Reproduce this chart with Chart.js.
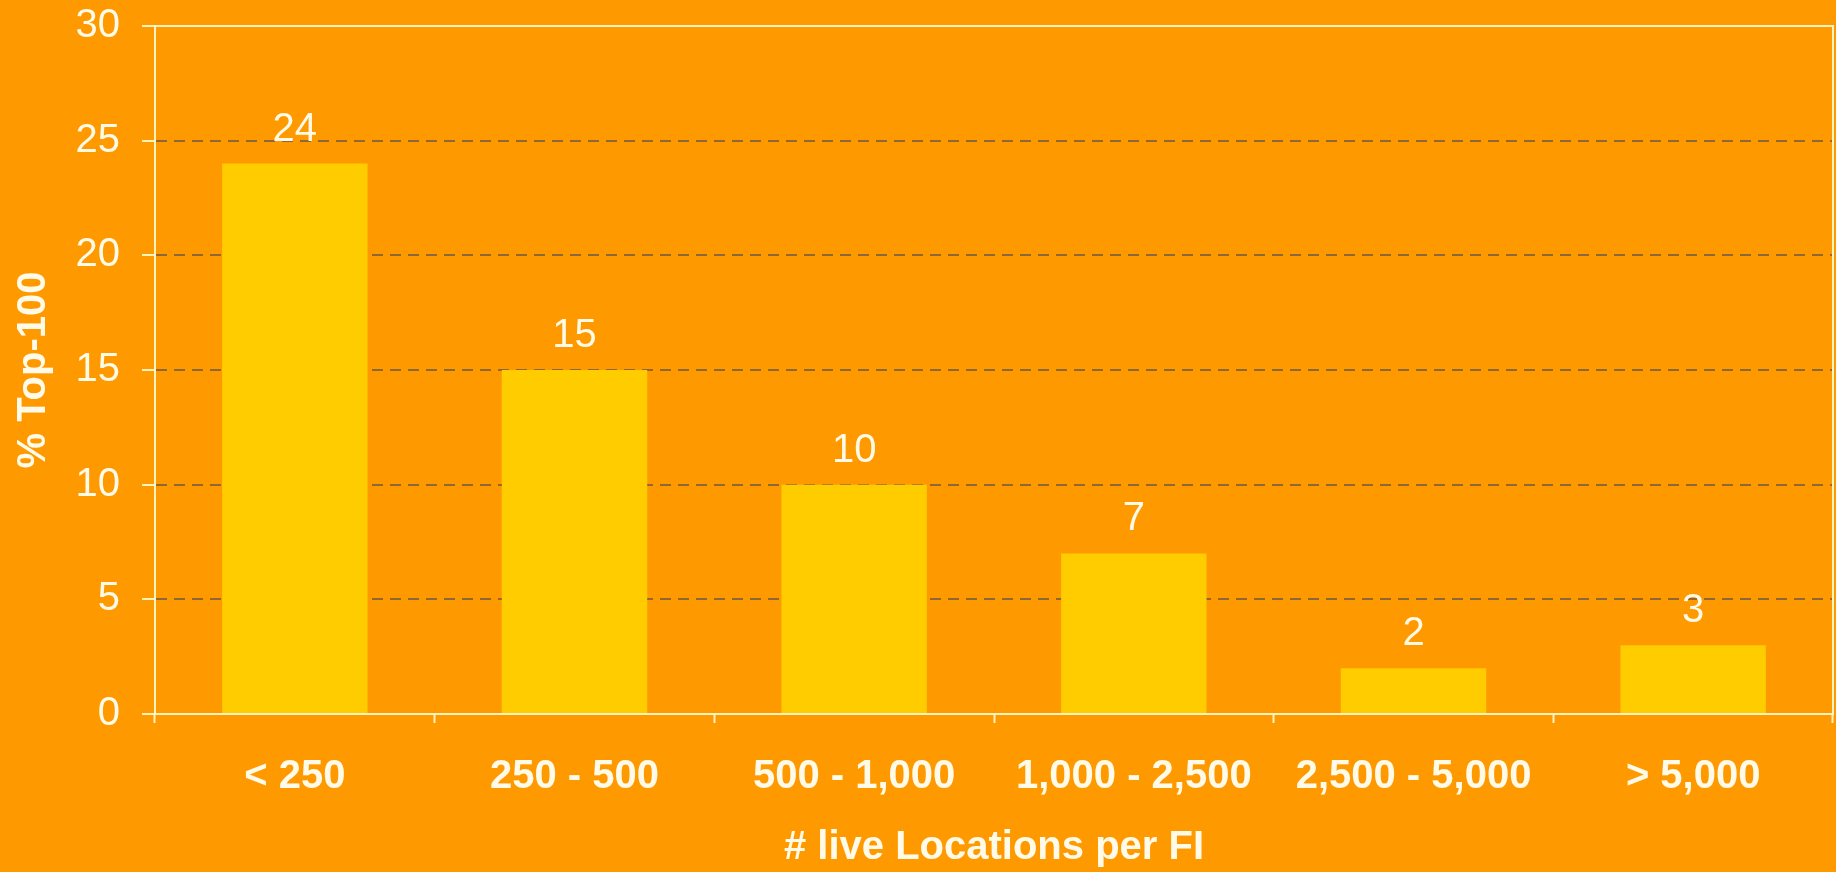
<!DOCTYPE html>
<html>
<head>
<meta charset="utf-8">
<script src="https://cdn.jsdelivr.net/npm/chart.js@4"></script>
<style>
  html, body { margin: 0; padding: 0; background: #ff9900; }
  #wrap { width: 1836px; height: 872px; position: relative; }
</style>
</head>
<body>
<div id="wrap"><canvas id="chartBar"></canvas></div>
<script>
// data
var categories = ["< 250", "250 - 500", "500 - 1,000", "1,000 - 2,500", "2,500 - 5,000", "> 5,000"];
var shares = [24, 15, 10, 7, 2, 3];
var yTicks = [0, 5, 10, 15, 20, 25, 30];

var lineColor = "#fff3c0";
var gridColor = "rgba(115, 90, 65, 0.8)";

// value labels above each bar
var valueLabels = {
    id: "valueLabels",
    afterDatasetsDraw: function (chart) {
        var ctx = chart.ctx;
        var meta = chart.getDatasetMeta(0);
        ctx.save();
        ctx.fillStyle = "#fffbe8";
        ctx.font = "40px 'Liberation Sans', Arial, sans-serif";
        ctx.textAlign = "center";
        ctx.textBaseline = "alphabetic";
        meta.data.forEach(function (bar, i) {
            ctx.fillText(shares[i], bar.x, bar.y - 23);
        });
        ctx.restore();
    },
};

// solid top and right edge of the plot area
var frame = {
    id: "frame",
    afterDraw: function (chart) {
        var a = chart.chartArea;
        var ctx = chart.ctx;
        ctx.save();
        ctx.strokeStyle = lineColor;
        ctx.lineWidth = 2;
        ctx.beginPath();
        ctx.moveTo(a.left - 13, a.top);
        ctx.lineTo(a.right, a.top);
        ctx.lineTo(a.right, a.bottom);
        ctx.stroke();
        ctx.restore();
    },
};

var ctx = document.getElementById("chartBar").getContext("2d");

const chartBar = new Chart(ctx, {
    type: "bar",
    data: {
        labels: categories,
        datasets: [
            {
                label: "% Top-100",
                data: shares,
                backgroundColor: "#ffcc00",
                borderWidth: 0,
                categoryPercentage: 1,
                barPercentage: 0.52,
            },
        ],
    },
    options: {
        responsive: true,
        maintainAspectRatio: false,
        animation: false,
        layout: {
            padding: { left: 10, top: 26, right: 3, bottom: 0 },
        },
        plugins: {
            legend: { display: false },
            tooltip: { enabled: false },
        },
        scales: {
            y: {
                min: 0,
                max: 30,
                afterBuildTicks: function (scale) {
                    scale.ticks = yTicks.map(function (v) { return { value: v }; });
                },
                afterFit: function (scale) {
                    scale.width = 145;
                    scale.paddingTop = 0;
                    scale.paddingBottom = 0;
                },
                grid: {
                    color: function (c) {
                        return c.tick && (c.tick.value === 0 || c.tick.value === 30) ? "rgba(0,0,0,0)" : gridColor;
                    },
                    lineWidth: 2,
                    tickColor: lineColor,
                    tickLength: 13,
                    tickWidth: 2,
                },
                border: {
                    color: lineColor,
                    width: 2,
                    dash: [11, 7],
                },
                ticks: {
                    color: "#fffbe8",
                    padding: 22,
                    font: { family: "'Liberation Sans', Arial, sans-serif", size: 40 },
                },
                title: {
                    display: true,
                    text: "% Top-100",
                    color: "#fffbe8",
                    padding: 0,
                    font: { family: "'Liberation Sans', Arial, sans-serif", size: 40, weight: "bold" },
                },
            },
            x: {
                afterFit: function (scale) {
                    scale.height = 158;
                },
                grid: {
                    offset: true,
                    drawOnChartArea: false,
                    drawTicks: true,
                    tickLength: 9,
                    tickColor: lineColor,
                    tickWidth: 2,
                },
                border: {
                    color: lineColor,
                    width: 2,
                },
                ticks: {
                    color: "#fffbe8",
                    padding: 30,
                    maxRotation: 0,
                    font: { family: "'Liberation Sans', Arial, sans-serif", size: 40, weight: "bold" },
                },
                title: {
                    display: true,
                    text: "# live Locations per FI",
                    color: "#fffbe8",
                    padding: { top: 24, bottom: 0 },
                    font: { family: "'Liberation Sans', Arial, sans-serif", size: 40, weight: "bold" },
                },
            },
        },
    },
    plugins: [valueLabels, frame],
});
</script>
</body>
</html>
